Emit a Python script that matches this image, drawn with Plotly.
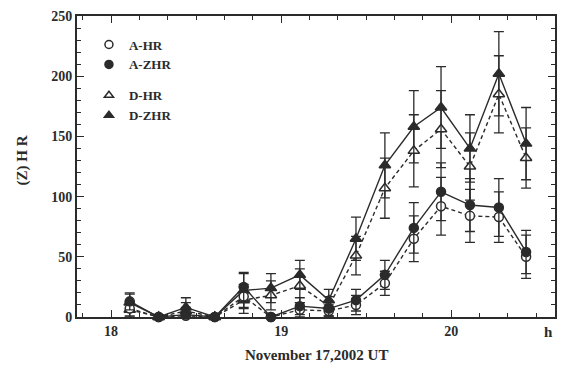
import plotly.graph_objects as go

# Observation times (decimal hours UT, November 17, 2002)
time_h = [18.11, 18.28, 18.44, 18.61, 18.78, 18.94, 19.11, 19.28,
          19.44, 19.61, 19.78, 19.94, 20.11, 20.28, 20.44]

# Site A: hourly rate and zenithal hourly rate with uncertainties
a_hr = [7, 0, 1, 0, 17, 0, 6, 5, 10, 28, 65, 92, 84, 83, 50]
a_hr_err = [6, 2, 5, 2, 10, 2, 6, 5, 8, 10, 19, 24, 22, 21, 18]
a_zhr = [13, 0, 2, 0, 25, 0, 9, 7, 14, 35, 74, 104, 93, 91, 54]
a_zhr_err = [7, 2, 6, 2, 12, 2, 7, 6, 9, 12, 21, 24, 22, 24, 18]

# Site D: hourly rate and zenithal hourly rate with uncertainties
d_hr = [6, 0, 5, 0, 14, 18, 26, 9, 51, 107, 138, 156, 125, 185, 132]
d_hr_err = [6, 2, 7, 2, 11, 12, 14, 8, 16, 25, 30, 32, 28, 32, 25]
d_zhr = [12, 0, 8, 0, 22, 24, 35, 14, 65, 126, 158, 174, 140, 202, 144]
d_zhr_err = [7, 2, 8, 2, 14, 12, 12, 9, 18, 27, 30, 34, 28, 35, 30]

x_range = [17.8, 20.61]
y_range = [0, 250]

INK = "#2b2b2b"
FONT = "Liberation Serif"

series = [
    # name, values, errors, symbol, fill, dash
    ("D-HR", d_hr, d_hr_err, "triangle-up", "white", "dash"),
    ("D-ZHR", d_zhr, d_zhr_err, "triangle-up", INK, "solid"),
    ("A-HR", a_hr, a_hr_err, "circle", "white", "dash"),
    ("A-ZHR", a_zhr, a_zhr_err, "circle", INK, "solid"),
]

fig = go.Figure()

for name, vals, errs, sym, fill, dash in series:
    fig.add_trace(go.Scatter(
        x=time_h, y=vals, mode="lines+markers", name=name,
        showlegend=False, cliponaxis=False,
        line=dict(color=INK, width=1.4, dash="4px,3px" if dash == "dash" else "solid"),
        marker=dict(symbol=sym, size=9 if sym == "circle" else 10,
                    color=fill, line=dict(color=INK, width=1.5)),
        error_y=dict(type="data", array=errs, visible=True,
                     color=INK, thickness=1.3, width=5),
    ))

# Legend entries (symbols only)
legend_order = [
    ("A-HR", "circle", "white", "A"),
    ("A-ZHR", "circle", INK, "A"),
    ("D-HR", "triangle-up", "white", "D"),
    ("D-ZHR", "triangle-up", INK, "D"),
]
for name, sym, fill, grp in legend_order:
    fig.add_trace(go.Scatter(
        x=[None], y=[None], mode="markers", name=name, legendgroup=grp,
        marker=dict(symbol=sym, size=8, color=fill, line=dict(color=INK, width=1.5)),
    ))

axis_common = dict(
    showline=True, linecolor=INK, linewidth=1.8, mirror="allticks",
    ticks="inside", tickcolor=INK, tickwidth=1.3, ticklen=7,
    showgrid=False, zeroline=False,
    tickfont=dict(family=FONT, size=14, color=INK, weight="bold"),
)

fig.update_xaxes(
    range=x_range, tick0=18, dtick=1, tickformat="d",
    minor=dict(dtick=1 / 6, tick0=18, ticks="inside", ticklen=4,
               tickcolor=INK, tickwidth=1.1, showgrid=False),
    **axis_common,
)
fig.update_yaxes(
    range=y_range, tick0=0, dtick=50,
    minor=dict(dtick=10, tick0=0, ticks="inside", ticklen=4,
               tickcolor=INK, tickwidth=1.1, showgrid=False),
    **axis_common,
)

fig.update_layout(
    width=566, height=371,
    margin=dict(l=77, r=9, t=15, b=54),
    plot_bgcolor="white", paper_bgcolor="white",
    font=dict(family=FONT, color=INK),
    showlegend=True,
    legend=dict(
        x=0.025, y=0.955, xanchor="left", yanchor="top",
        bgcolor="rgba(0,0,0,0)", borderwidth=0,
        font=dict(family=FONT, size=13, color=INK, weight="bold"),
        tracegroupgap=11, itemwidth=30, traceorder="grouped",
    ),
    annotations=[
        dict(text="(Z) H R", textangle=-90, xref="paper", yref="paper",
             x=-0.135, y=0.52, showarrow=False,
             font=dict(family=FONT, size=15, color=INK, weight="bold")),
        dict(text="November 17,2002 UT", xref="paper", yref="paper",
             x=0.5, y=-0.126, yanchor="middle", showarrow=False,
             font=dict(family=FONT, size=15, color=INK, weight="bold")),
        dict(text="h", xref="paper", yref="paper",
             x=1.0, y=-0.05, yanchor="middle", showarrow=False,
             font=dict(family=FONT, size=15, color=INK, weight="bold")),
    ],
)

fig.write_html("out.html")
